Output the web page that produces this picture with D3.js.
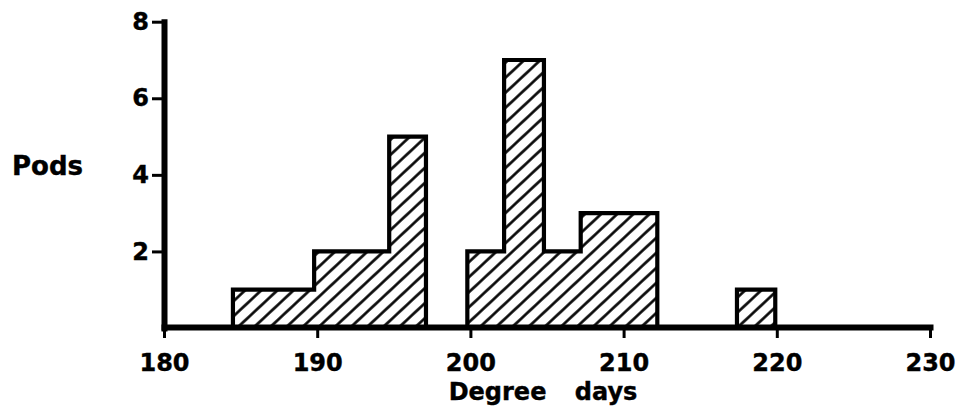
<!DOCTYPE html>
<html>
<head>
<meta charset="utf-8">
<script src="https://cdn.jsdelivr.net/npm/d3@7"></script>
<style>
  html, body { margin: 0; padding: 0; background: #fff; }
  svg { display: block; }
  text { font-family: "DejaVu Sans", sans-serif; font-weight: bold; fill: #000; stroke: #000; stroke-width: 0.4px; }
</style>
</head>
<body>
<svg id="chart" width="963" height="420"></svg>
<script>
// Histogram of pods by degree days: bin edges and counts
const binLo = [184.5, 189.8, 194.7, 199.8, 202.2, 204.8, 207.2, 217.4];
const binHi = [189.8, 194.7, 197.1, 202.2, 204.8, 207.2, 212.2, 219.9];
const pods  = [1, 2, 5, 2, 7, 2, 3, 1];

const xTicks = [180, 190, 200, 210, 220, 230];
const yTicks = [2, 4, 6, 8];
const xTitle = "Degree days";
const yTitle = "Pods";

const svg = d3.select("#chart");

const x = d3.scaleLinear().domain([180, 230]).range([164, 930]);
const y = d3.scaleLinear().domain([0, 8]).range([328, 21.7]);

// Diagonal hatch fill
const defs = svg.append("defs");
const pat = defs.append("pattern")
  .attr("id", "hatch")
  .attr("patternUnits", "userSpaceOnUse")
  .attr("width", 11).attr("height", 11)
  .attr("patternTransform", "rotate(47)");
pat.append("line")
  .attr("x1", 5.5).attr("y1", -1).attr("x2", 5.5).attr("y2", 12)
  .attr("stroke", "#000").attr("stroke-width", 2.6);

// Group contiguous bins into clusters so each draws as one stepped outline
const bins = pods.map((c, i) => ({ lo: binLo[i], hi: binHi[i], c }));
const clusters = [];
bins.forEach(b => {
  const last = clusters[clusters.length - 1];
  if (last && Math.abs(last[last.length - 1].hi - b.lo) < 1e-9) last.push(b);
  else clusters.push([b]);
});

const line = d3.line().x(d => x(d[0])).y(d => y(d[1]));
clusters.forEach(cl => {
  const pts = [[cl[0].lo, 0]];
  cl.forEach(b => { pts.push([b.lo, b.c]); pts.push([b.hi, b.c]); });
  pts.push([cl[cl.length - 1].hi, 0]);
  svg.append("path")
    .attr("d", line(pts) + "Z")
    .attr("fill", "url(#hatch)")
    .attr("stroke", "none");
  svg.append("path")
    .attr("d", line(pts))
    .attr("fill", "none")
    .attr("stroke", "#000")
    .attr("stroke-width", 4.2)
    .attr("stroke-linejoin", "miter");
});

// Axes
const xAxis = svg.append("g")
  .attr("transform", `translate(0,${y(0) - 1})`)
  .call(d3.axisBottom(x).tickValues(xTicks).tickSize(11).tickSizeOuter(0).tickPadding(16));
const yAxis = svg.append("g")
  .attr("transform", `translate(${x(180)},0)`)
  .call(d3.axisLeft(y).tickValues(yTicks).tickSize(12).tickSizeOuter(0).tickPadding(3));

[xAxis, yAxis].forEach(g => {
  g.select(".domain")
    .attr("stroke", "#000").attr("stroke-width", 6)
    .attr("stroke-linecap", "square");
  g.selectAll(".tick line").attr("stroke", "#000").attr("stroke-width", 3);
  g.selectAll(".tick text")
    .attr("font-family", "DejaVu Sans")
    .attr("font-weight", "bold")
    .attr("font-size", 24)
    .attr("fill", "#000");
});

// Axis titles
svg.append("text")
  .attr("x", 543).attr("y", 400)
  .attr("text-anchor", "middle")
  .attr("font-size", 24)
  .attr("word-spacing", 20)
  .text(xTitle);

svg.append("text")
  .attr("x", 12).attr("y", 175)
  .attr("font-size", 26)
  .text(yTitle);
</script>
</body>
</html>
